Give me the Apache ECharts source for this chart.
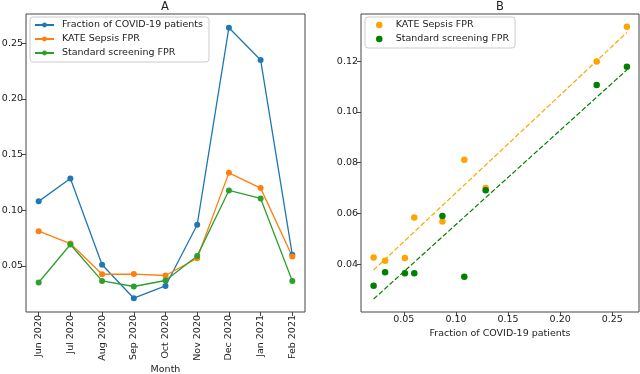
<!DOCTYPE html>
<html>
<head>
<meta charset="utf-8">
<script src="https://cdn.jsdelivr.net/npm/echarts@6/dist/echarts.min.js"></script>
<style>
  html, body { margin: 0; padding: 0; background: #fff; }
  #chart { width: 640px; height: 374px; }
</style>
</head>
<body>
<div id="chart"></div>
<script>
// values
const months = ['Jun 2020', 'Jul 2020', 'Aug 2020', 'Sep 2020', 'Oct 2020', 'Nov 2020', 'Dec 2020', 'Jan 2021', 'Feb 2021'];
const covidFraction = [0.108, 0.1285, 0.051, 0.021, 0.032, 0.087, 0.264, 0.235, 0.060];
const kateFpr = [0.0812, 0.0701, 0.0425, 0.0427, 0.0414, 0.0569, 0.1336, 0.1199, 0.0584];
const standardFpr = [0.0351, 0.0692, 0.0365, 0.0315, 0.0369, 0.059, 0.1178, 0.1106, 0.0365];

const yTicksA = [0.05, 0.10, 0.15, 0.20, 0.25];
const xTicksB = [0.05, 0.10, 0.15, 0.20, 0.25];
const yTicksB = [0.04, 0.06, 0.08, 0.10, 0.12];

const FONT = 'DejaVu Sans';
const AXIS = '#444';

// least squares line over the scatter, drawn between min and max x
function fitLine(xs, ys) {
  const n = xs.length;
  const mx = xs.reduce((a, b) => a + b, 0) / n;
  const my = ys.reduce((a, b) => a + b, 0) / n;
  let sxy = 0, sxx = 0;
  for (let i = 0; i < n; i++) {
    sxy += (xs[i] - mx) * (ys[i] - my);
    sxx += (xs[i] - mx) * (xs[i] - mx);
  }
  const k = sxy / sxx;
  const x0 = Math.min(...xs), x1 = Math.max(...xs);
  return [[x0, my + k * (x0 - mx)], [x1, my + k * (x1 - mx)]];
}

const pairs = (xs, ys) => xs.map((x, i) => [x, ys[i]]);

const legendNames = {
  kateB: 'KATE Sepsis FPR',
  stdB: 'Standard screening FPR'
};

function axisCommon(ticks, extra) {
  return Object.assign({
    type: 'value',
    splitLine: { show: false },
    axisLine: { show: false, onZero: false },
    axisTick: { show: true, length: 4, lineStyle: { color: AXIS }, customValues: ticks },
    nameMoveOverlap: false
  }, extra);
}

const labelStyle = { fontFamily: FONT, fontSize: 9.5, color: '#222', margin: 3 };
const nameStyle = { fontFamily: FONT, fontSize: 9.5, color: '#222' };
const titleStyle = { fontFamily: FONT, fontSize: 11.5, fontWeight: 'normal', color: '#222' };

const chart = echarts.init(document.getElementById('chart'), null, { renderer: 'canvas' });

const monthIdx = months.map((m, i) => i);

const option = {
  backgroundColor: '#fff',
  animation: false,
  title: [
    { text: 'A', left: 165, top: 1, padding: 0, textAlign: 'center', textStyle: titleStyle },
    { text: 'B', left: 500, top: 1, padding: 0, textAlign: 'center', textStyle: titleStyle }
  ],
  grid: [
    { left: 26, right: 335, top: 14, bottom: 62, outerBoundsMode: 'none',
      show: true, borderColor: AXIS, borderWidth: 1, backgroundColor: 'transparent' },
    { left: 361, right: 1, top: 14, bottom: 62, outerBoundsMode: 'none',
      show: true, borderColor: AXIS, borderWidth: 1, backgroundColor: 'transparent' }
  ],
  legend: [
    {
      orient: 'vertical', left: 30, top: 17,
      padding: [3, 6, 4, 4], itemGap: 4, itemWidth: 19, itemHeight: 6,
      borderColor: '#ccc', borderWidth: 1, borderRadius: 3,
      textStyle: { fontFamily: FONT, fontSize: 9.5, color: '#222', lineHeight: 10, padding: [0, 0, 0, 3] },
      data: ['Fraction of COVID-19 patients', 'KATE Sepsis FPR', 'Standard screening FPR']
    },
    {
      orient: 'vertical', left: 365, top: 17,
      padding: [3, 6, 4, 11], itemGap: 4, itemWidth: 7, itemHeight: 6.5,
      borderColor: '#ccc', borderWidth: 1, borderRadius: 3,
      textStyle: { fontFamily: FONT, fontSize: 9.5, color: '#222', lineHeight: 10, padding: [0, 0, 0, 8] },
      formatter: name => legendNames[name],
      data: [{ name: 'kateB', icon: 'circle' }, { name: 'stdB', icon: 'circle' }]
    }
  ],
  xAxis: [
    axisCommon(monthIdx, {
      gridIndex: 0, min: -0.4, max: 8.4,
      name: 'Month', nameLocation: 'middle', nameGap: 53, nameTextStyle: nameStyle,
      axisLabel: Object.assign({}, labelStyle, {
        rotate: 90, customValues: monthIdx,
        formatter: v => months[Math.round(v)]
      })
    }),
    axisCommon(xTicksB, {
      gridIndex: 1, min: 0.0089, max: 0.2756,
      name: 'Fraction of COVID-19 patients', nameLocation: 'middle', nameGap: 17, nameTextStyle: nameStyle,
      axisLabel: Object.assign({}, labelStyle, { customValues: xTicksB, formatter: v => v.toFixed(2) })
    })
  ],
  yAxis: [
    axisCommon(yTicksA, {
      gridIndex: 0, min: 0.0086, max: 0.2763,
      axisLabel: Object.assign({}, labelStyle, { customValues: yTicksA, formatter: v => v.toFixed(2) })
    }),
    axisCommon(yTicksB, {
      gridIndex: 1, min: 0.0212, max: 0.1386,
      axisLabel: Object.assign({}, labelStyle, { customValues: yTicksB, formatter: v => v.toFixed(2) })
    })
  ],
  series: [
    {
      name: 'Fraction of COVID-19 patients', type: 'line', xAxisIndex: 0, yAxisIndex: 0,
      data: covidFraction.map((v, i) => [i, v]),
      symbol: 'circle', symbolSize: 6,
      lineStyle: { color: '#1f77b4', width: 1.3 }, itemStyle: { color: '#1f77b4' }
    },
    {
      name: 'KATE Sepsis FPR', type: 'line', xAxisIndex: 0, yAxisIndex: 0,
      data: kateFpr.map((v, i) => [i, v]),
      symbol: 'circle', symbolSize: 6,
      lineStyle: { color: '#ff7f0e', width: 1.3 }, itemStyle: { color: '#ff7f0e' }
    },
    {
      name: 'Standard screening FPR', type: 'line', xAxisIndex: 0, yAxisIndex: 0,
      data: standardFpr.map((v, i) => [i, v]),
      symbol: 'circle', symbolSize: 6,
      lineStyle: { color: '#2ca02c', width: 1.3 }, itemStyle: { color: '#2ca02c' }
    },
    {
      name: 'kateB', type: 'scatter', xAxisIndex: 1, yAxisIndex: 1,
      data: pairs(covidFraction, kateFpr), symbolSize: 6.5,
      itemStyle: { color: '#ffa500', opacity: 1 }
    },
    {
      name: 'stdB', type: 'scatter', xAxisIndex: 1, yAxisIndex: 1,
      data: pairs(covidFraction, standardFpr), symbolSize: 6.5,
      itemStyle: { color: '#008000', opacity: 1 }
    },
    {
      name: 'kateFit', type: 'line', xAxisIndex: 1, yAxisIndex: 1,
      data: fitLine(covidFraction, kateFpr), symbol: 'none', z: 1,
      lineStyle: { color: '#ffa500', width: 1.2, type: [5, 2.2] }
    },
    {
      name: 'stdFit', type: 'line', xAxisIndex: 1, yAxisIndex: 1,
      data: fitLine(covidFraction, standardFpr), symbol: 'none', z: 1,
      lineStyle: { color: '#008000', width: 1.2, type: [5, 2.2] }
    }
  ]
};

chart.setOption(option);
</script>
</body>
</html>
